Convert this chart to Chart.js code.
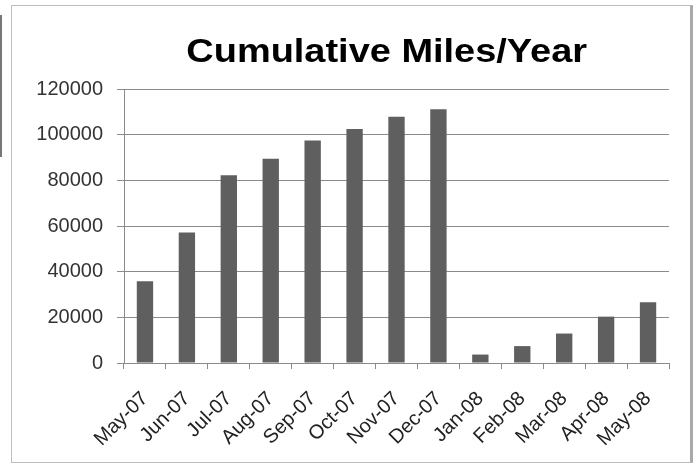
<!DOCTYPE html>
<html>
<head>
<meta charset="utf-8">
<script src="https://cdn.jsdelivr.net/npm/chart.js@4"></script>
<style>
  html, body { margin: 0; padding: 0; background: #fff; }
  #wrap { position: relative; width: 696px; height: 468px; overflow: hidden; }
  #frame {
    position: absolute; left: 11px; top: 5px; width: 678px; height: 456px;
    border: 1px solid #bdbdbd; border-right: 3px solid #a9a9a9;
  }
  #edge { position: absolute; left: 0; top: 15px; width: 2px; height: 142px; background: #777; }
  canvas { position: absolute; left: 0; top: 0; }
</style>
</head>
<body>
<div id="wrap">
  <div id="edge"></div>
  <div id="frame"></div>
  <canvas id="chart" width="696" height="468"></canvas>
</div>
<script>
// Chart data
const months = ['May-07', 'Jun-07', 'Jul-07', 'Aug-07', 'Sep-07', 'Oct-07', 'Nov-07',
                'Dec-07', 'Jan-08', 'Feb-08', 'Mar-08', 'Apr-08', 'May-08'];
const cumulativeMiles = [35800, 57100, 82200, 89400, 97500, 102500, 107900,
                         111100, 3700, 7400, 12900, 20300, 26600];
const chartTitle = 'Cumulative Miles/Year';

// draws the title roughly where Excel put it (a bit left of the plot centre),
// slightly stretched like the original picture
const titlePlugin = {
    id: 'excelTitle',
    afterDraw(chart) {
        const ctx = chart.ctx;
        const area = chart.chartArea;
        const cx = area.left + area.width * 0.482;
        ctx.save();
        ctx.font = 'bold 33px "Liberation Sans", Arial, sans-serif';
        ctx.fillStyle = '#000';
        ctx.textAlign = 'center';
        ctx.textBaseline = 'alphabetic';
        ctx.translate(cx, 62);
        ctx.scale(1.15, 1);
        ctx.fillText(chartTitle, 0, 0);
        ctx.restore();
    }
};

new Chart(document.getElementById('chart'), {
    type: 'bar',
    data: {
        labels: months,
        datasets: [{
            data: cumulativeMiles,
            backgroundColor: '#5f5f5f',
            borderWidth: 0,
            barPercentage: 0.39,
            categoryPercentage: 1
        }]
    },
    options: {
        responsive: false,
        animation: false,
        layout: {
            padding: { top: 89, right: 27, bottom: 5, left: 0 }
        },
        plugins: {
            legend: { display: false },
            title: { display: false },
            tooltip: { enabled: false }
        },
        scales: {
            x: {
                afterFit: function(scale) { scale.height = 100; },
                grid: {
                    drawOnChartArea: false,
                    drawTicks: true,
                    tickLength: 6,
                    color: '#8a8a8a'
                },
                border: { color: '#8a8a8a', width: 1 },
                ticks: {
                    minRotation: 45,
                    maxRotation: 45,
                    autoSkip: false,
                    padding: 18,
                    color: '#222',
                    font: { family: '"Liberation Sans", Arial, sans-serif', size: 20 }
                }
            },
            y: {
                min: 0,
                max: 120000,
                afterFit: function(scale) { scale.width = 124; },
                grid: {
                    color: '#8a8a8a',
                    tickLength: 7
                },
                border: { color: '#8a8a8a', width: 1 },
                ticks: {
                    stepSize: 20000,
                    padding: 14,
                    color: '#333',
                    font: { family: '"Liberation Sans", Arial, sans-serif', size: 20 },
                    callback: function(value) { return String(value); }
                }
            }
        }
    },
    plugins: [titlePlugin]
});
</script>
</body>
</html>
